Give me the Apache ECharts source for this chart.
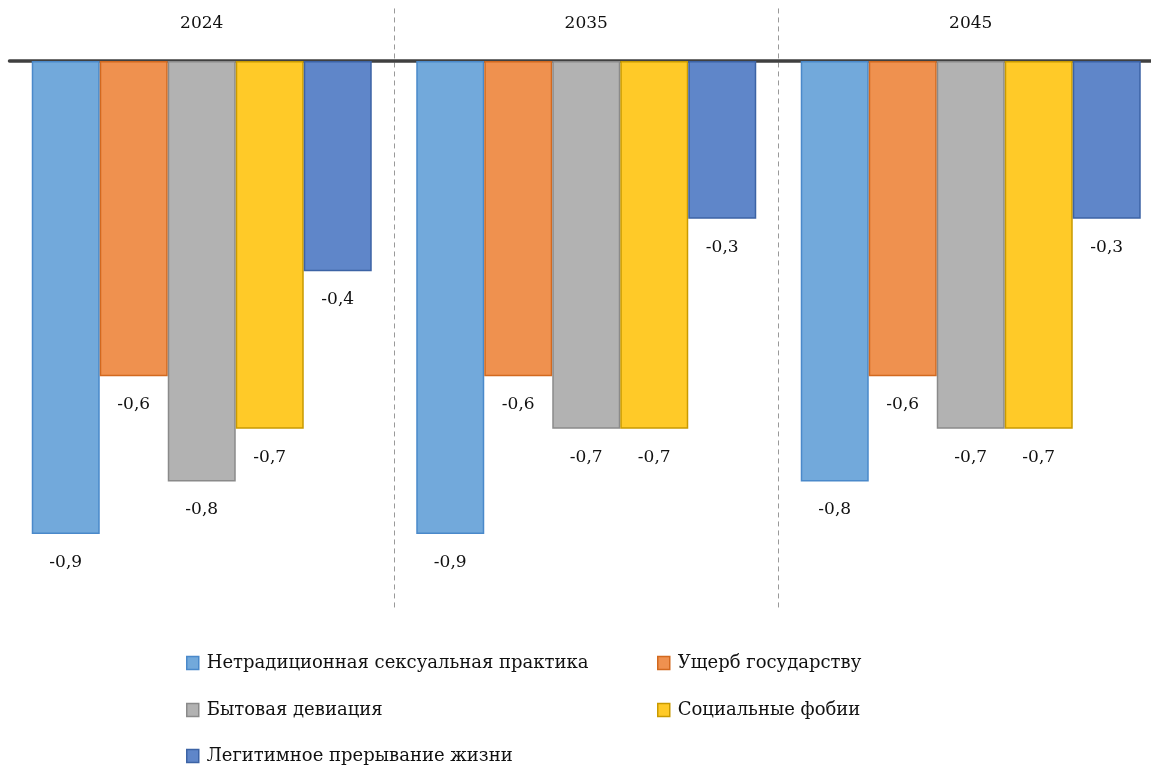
<!DOCTYPE html>
<html><head><meta charset="utf-8">
<script src="https://cdn.jsdelivr.net/npm/echarts@6/dist/echarts.min.js"></script>
<style>html,body{margin:0;padding:0;background:#fff;overflow:hidden;width:1151px;height:767px}#c{width:1175px;height:767px}</style>
</head><body><div id="c"></div>
<script>
const categories = ['2024', '2035', '2045'];
const seriesNames = ['Нетрадиционная сексуальная практика', 'Ущерб государству', 'Бытовая девиация', 'Социальные фобии', 'Легитимное прерывание жизни'];
const s1 = [-0.9, -0.9, -0.8];
const s2 = [-0.6, -0.6, -0.6];
const s3 = [-0.8, -0.7, -0.7];
const s4 = [-0.7, -0.7, -0.7];
const s5 = [-0.4, -0.3, -0.3];
const values = [s1, s2, s3, s4, s5];
const fills = ['#72A9DB', '#EF914F', '#B2B2B2', '#FFCA28', '#5F86C9'];
const borders = ['#4A89CA', '#D2691F', '#8A8A8A', '#C99A00', '#3C63A5'];
const FONT = '"DejaVu Serif", "Liberation Serif", serif';
const FS = 17;

const chart = echarts.init(document.getElementById('c'));
const series = values.map((v, i) => ({
  name: seriesNames[i], type: 'bar', data: v, barWidth: 68, barGap: '0%',
  itemStyle: { color: fills[i], borderColor: borders[i], borderWidth: 1.5 },
  label: { show: true, position: 'bottom', distance: 20, color: '#111', fontFamily: FONT, fontSize: FS,
    formatter: p => String(p.value).replace('.', ',') },
  emphasis: { disabled: true }, animation: false
}));
const legendPos = [[186, 654], [657, 654], [186, 701], [657, 701], [186, 747]];
const legends = seriesNames.map((n, i) => ({
  data: [{ name: n, itemStyle: { color: fills[i], borderColor: borders[i], borderWidth: 1.5 } }],
  left: legendPos[i][0], top: legendPos[i][1], padding: 0, icon: 'rect', itemWidth: 12, itemHeight: 13, itemGap: 0,
  textStyle: { fontFamily: FONT, fontSize: 18, color: '#111', padding: [0, 0, 0, 3] },
  selectedMode: false
}));
chart.setOption({
  animation: false,
  grid: { left: 9.5, top: 8.45, width: 1153.5, height: 599.05, containLabel: false },
  xAxis: {
    type: 'category', data: categories, position: 'top',
    axisLine: { show: true, onZero: true, lineStyle: { color: '#404040', width: 3.5 } },
    axisTick: { show: false },
    axisLabel: { margin: -24, fontFamily: FONT, fontSize: FS, color: '#111' },
    splitLine: { show: true, interval: (idx) => idx !== 0, lineStyle: { color: '#999999', type: [5, 4], width: 1 } }
  },
  yAxis: { type: 'value', min: -1.04, max: 0.1, interval: 0.02, show: false, splitLine: { show: false } },
  legend: legends,
  series: series
});
</script></body></html>
